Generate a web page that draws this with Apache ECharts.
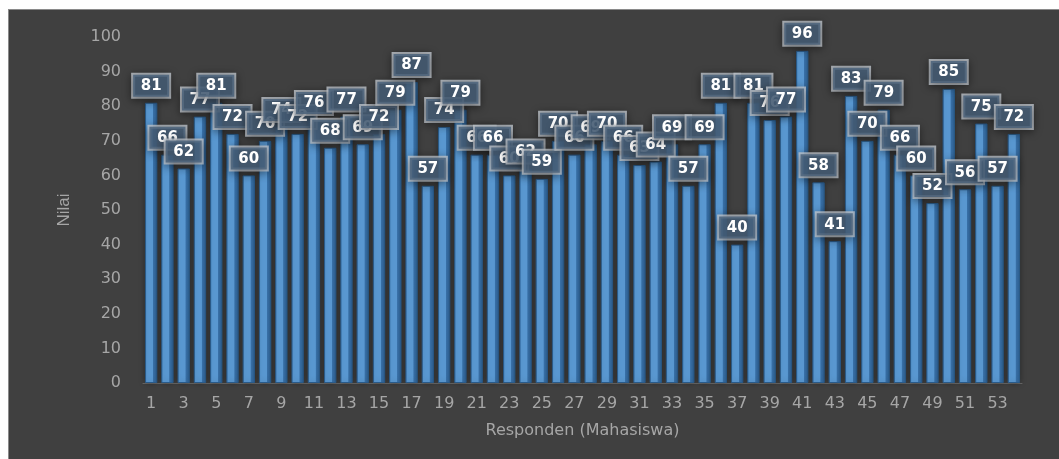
<!DOCTYPE html>
<html>
<head>
<meta charset="utf-8">
<script src="https://cdn.jsdelivr.net/npm/echarts@6/dist/echarts.min.js"></script>
<style>
  html, body { margin: 0; padding: 0; background: #ffffff; }
  #chart {
    position: absolute; left: 8px; top: 9px;
    width: 1051px; height: 450px;
    background: #404040;
    border-top: 1px solid #8a8a8a; border-left: 1px solid #8a8a8a;
    box-sizing: border-box;
  }
</style>
</head>
<body>
<div id="chart"></div>
<script>
// Respondents 1..54 and their scores
const respondents = Array.from({ length: 54 }, (_, i) => String(i + 1));
const scores = [
  81, 66, 62, 77, 81, 72, 60, 70, 74, 72,
  76, 68, 77, 69, 72, 79, 87, 57, 74, 79,
  66, 66, 60, 62, 59, 70, 66, 69, 70, 66,
  63, 64, 69, 57, 69, 81, 40, 81, 76, 77,
  96, 58, 41, 83, 70, 79, 66, 60, 52, 85,
  56, 75, 57, 72
];
const yTicks = { min: 0, max: 100, step: 10 };
const yTitle = 'Nilai';
const xTitle = 'Responden (Mahasiswa)';

const chart = echarts.init(document.getElementById('chart'));
const axisText = '#a6a6a6';
const font = 'DejaVu Sans, sans-serif';

chart.setOption({
  backgroundColor: 'transparent',
  animation: false,
  grid: { left: 134, right: 37, top: 27, bottom: 76 },
  xAxis: {
    type: 'category',
    data: respondents,
    name: xTitle,
    nameLocation: 'middle',
    nameGap: 40,
    nameTextStyle: { color: axisText, fontSize: 16, fontFamily: font },
    axisLine: { lineStyle: { color: '#6a6a6a', width: 1 } },
    axisTick: { show: false },
    axisLabel: { interval: 1, color: axisText, fontSize: 16, fontFamily: font, margin: 13 },
    splitLine: { show: false }
  },
  yAxis: {
    type: 'value',
    min: yTicks.min, max: yTicks.max, interval: yTicks.step,
    name: yTitle,
    nameLocation: 'middle',
    nameGap: 70,
    nameRotate: 90,
    nameTextStyle: { color: axisText, fontSize: 17, fontFamily: 'Liberation Sans Narrow, Liberation Sans, sans-serif' },
    axisLine: { show: false },
    axisTick: { show: false },
    axisLabel: { color: axisText, fontSize: 16, fontFamily: font, margin: 22 },
    splitLine: { show: false }
  },
  series: [{
    type: 'bar',
    data: scores,
    barCategoryGap: '24%',
    itemStyle: {
      color: new echarts.graphic.LinearGradient(0, 0, 1, 0, [
        { offset: 0, color: '#3f7cb8' },
        { offset: 0.15, color: '#5b9bd5' },
        { offset: 0.62, color: '#5b9bd5' },
        { offset: 0.68, color: '#3a73ab' },
        { offset: 1, color: '#2d6093' }
      ]),
      borderColor: '#2a5a88',
      borderWidth: 1,
      shadowColor: 'rgba(0,0,0,0.35)',
      shadowBlur: 6
    },
    label: {
      show: true,
      position: 'top',
      distance: 6,
      color: '#ffffff',
      fontWeight: 'bold',
      fontSize: 15,
      fontFamily: font,
      backgroundColor: 'rgba(72,96,122,0.82)',
      borderColor: 'rgba(196,202,210,0.8)',
      borderWidth: 2,
      padding: [4, 5, 3, 5],
      width: 26,
      align: 'center',
      shadowColor: 'rgba(0,0,0,0.45)',
      shadowBlur: 8,
      shadowOffsetY: 2
    }
  }]
});
</script>
</body>
</html>
